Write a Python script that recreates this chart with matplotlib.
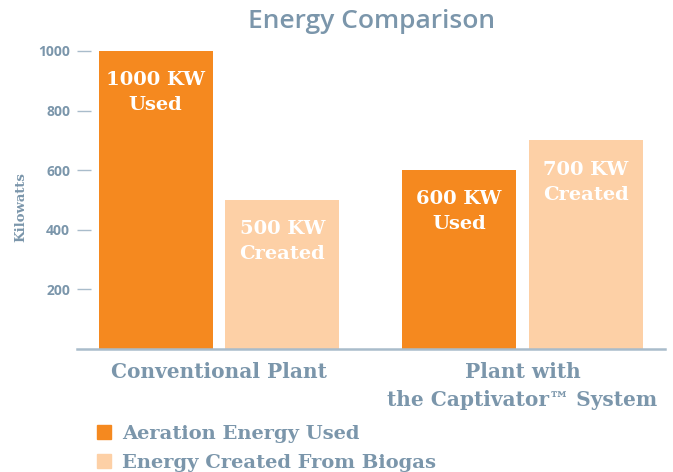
import matplotlib
matplotlib.use("Agg")
import matplotlib.pyplot as plt
import matplotlib.patches as patch
import numpy as np

groups = ["Conventional Plant", "Plant with\nthe Captivator\u2122 System"]
used = [1000, 600]
created = [500, 700]
used_labels = ["1000 KW\nUsed", "600 KW\nUsed"]
created_labels = ["500 KW\nCreated", "700 KW\nCreated"]
yticks = [200, 400, 600, 800, 1000]
legend_labels = ["Aeration Energy Used", "Energy Created From Biogas"]

ORANGE = "#f5891f"
PEACH = "#fdd0a6"
TXT = "#7b96ab"
LINE = "#a9bccb"
SLAB = "DejaVu Serif"

fig = plt.figure(figsize=(6.73, 4.72), dpi=100)
ax = fig.add_axes([77/673, 1-349/472, 588/673, (349-36.1)/472])

x = np.arange(len(groups))
w = 0.376
off = 0.209
b1 = ax.bar(x - off, used, w, color=ORANGE)
b2 = ax.bar(x + off, created, w, color=PEACH)

for bars, labs in [(b1, used_labels), (b2, created_labels)]:
    for r, lab in zip(bars, labs):
        ax.annotate(lab, (r.get_x() + r.get_width()/2, r.get_height()),
                    xytext=(0, -14.5), textcoords="offset points",
                    ha="center", va="top", color="white", fontsize=14,
                    fontweight="bold", family=SLAB, linespacing=1.5)

ax.set_xlim(-0.468, 1.47)
ax.set_ylim(0, 1050)
ax.set_yticks(yticks)
ax.set_xticks(x)
ax.set_xticklabels(groups, family=SLAB, fontsize=14.5, fontweight="bold",
                   color=TXT, linespacing=1.5)
ax.tick_params(axis="x", length=0, pad=9)
ax.tick_params(axis="y", direction="in", length=10, width=1, color=LINE,
               pad=5, labelcolor=TXT, labelsize=10)
for t in ax.get_yticklabels():
    t.set_family("Open Sans")
    t.set_fontweight("bold")

for s in ["top", "right", "left"]:
    ax.spines[s].set_visible(False)
ax.spines["bottom"].set_color(LINE)
ax.spines["bottom"].set_linewidth(1.8)

fig.text(371/673, 1-22/472, "Energy Comparison", ha="center", va="center",
         fontsize=19, color=TXT, family="Open Sans", fontweight="semibold")
fig.text(21/673, 1-207/472, "Kilowatts", rotation=90, ha="center", va="center",
         fontsize=9.5, color=TXT, family=SLAB, fontweight="bold")

handles = [patch.Rectangle((0, 0), 1, 1, color=ORANGE),
           patch.Rectangle((0, 0), 1, 1, color=PEACH)]
leg = fig.legend(handles, legend_labels, loc="upper left",
                 bbox_to_anchor=(97/673, 1-425/472), frameon=False,
                 handlelength=0.7, handleheight=0.7, handletextpad=0.6,
                 labelspacing=0.55, borderaxespad=0, borderpad=0,
                 prop={"family": SLAB, "weight": "bold", "size": 14})
for t in leg.get_texts():
    t.set_color(TXT)

fig.savefig("out.png", dpi=100)
